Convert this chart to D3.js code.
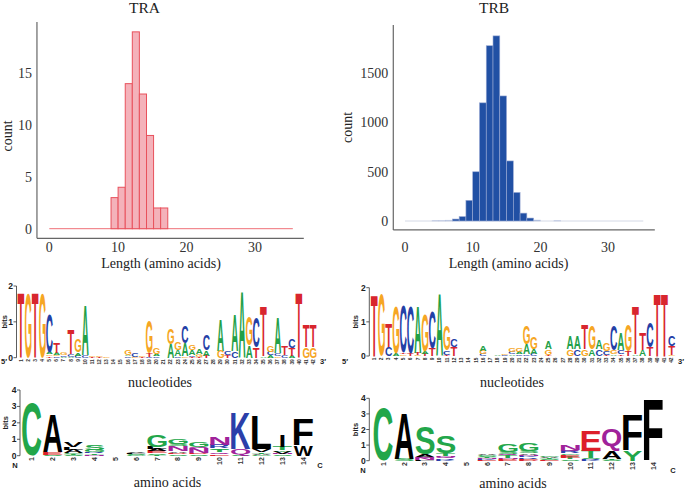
<!DOCTYPE html>
<html><head><meta charset="utf-8">
<script src="https://cdn.jsdelivr.net/npm/d3@7"></script>
<style>body{margin:0;background:#fff}svg{display:block}</style>
</head><body>
<svg id="c" width="685" height="491"></svg>
<script>
// ---------------- DATA ----------------
const xTickVals = [0, 10, 20, 30];
// TRA histogram
const traEdges  = [9, 10.03, 11.07, 12.1, 13.13, 14.17, 15.2, 16.23, 17.27];
const traCounts = [3, 4, 14, 19, 13, 9, 2, 2];
const traSpan   = [0, 35.5];
const traYTicks = [0, 5, 10, 15];
// TRB histogram
const trbEdges  = [4, 5, 6, 7, 8, 9, 10, 11, 12, 13, 14, 15, 16, 17, 18, 19, 20, 21, 22, 23];
const trbCounts = [3, 3, 8, 20, 45, 210, 500, 1200, 1780, 1880, 1270, 610, 290, 80, 30, 10, 0, 0, 3];
const trbSpan   = [0, 35.2];
const trbYTicks = [0, 500, 1000, 1500];

// Sequence logos: each column lists letters bottom -> top with bits
const traNt = ["T1.8","G1.8","T1.8","G1.8","T0.04 G0.05 A0.06 C1.05","C0.04 G0.04 A0.05 T0.27",
  "A0.03 C0.04 G0.06","A0.03 C0.08 T0.7","C0.06 A0.08 G0.36","C0.07 A1.38","T0.02 G0.04","T0.02 G0.03",
  "G0.02","","","C0.04 A0.04 G0.15","G0.03 C0.1","T0.03 G0.03","C0.03 T0.1 G0.92","C0.04 A0.05 G0.17","",
  "A0.38 G0.42","C0.04 A0.16 G0.2","G0.04 A0.36 C0.47","T0.03 C0.04 A0.14 G0.16","T0.03 G0.06 A0.14",
  "T0.06 A0.14 C0.44","","G0.2 A0.85","T0.07 C0.12","C0.18 A1.02","A1.83","A0.33 G0.82","T0.3 C0.85",
  "A0.04 T1.39","A0.06 C0.1 G0.17","G0.05 C0.08 A0.98","C0.08 T0.26","A0.05 T0.22 C0.25","T1.8",
  "G0.3 T0.62","G0.3 T0.62"];
const trbNt = ["T1.8","G1.8","C0.27 T0.69","A0.08 G1.38","G0.05 T0.04 C1.37","T0.08 C1.38",
  "G0.04 T0.06 A1.36","T0.06 A0.08 G1.08","T0.22 C1.08","A1.83","T0.04 C0.12 G0.74","T0.26 C0.24",
  "","","","C0.06 G0.1 A0.14","","A0.02","C0.02 G0.04","A0.05 C0.06 G0.1","C0.05 A0.06 G0.1",
  "C0.05 A0.3 G0.55","C0.06 A0.14 G0.36","","T0.04 G0.16 A0.22","","","G0.2 A0.36","C0.2 A0.36",
  "G0.2 T0.7","A0.2 G0.7","C0.2 A0.25","T0.03 C0.1 G0.24","A0.05 G0.12 C0.73","T0.05 C0.12 A0.5",
  "T0.14 G0.76","A0.05 T1.41","A0.18 T0.48","T0.25 C0.72","T1.83","T1.83","G0.03 T0.25 C0.3"];
const traAa = ["C3.17","S0.05 E0.16 A2.25","S0.05 T0.05 G0.05 A0.2 L0.15 V0.3","N0.06 T0.1 R0.08 G0.12 S0.3",
  "","G0.05 S0.05 L0.05 V0.05","T0.06 S0.08 E0.12 A0.14 L0.15 G0.7","S0.08 D0.08 A0.1 N0.3 S0.15 G0.35",
  "S0.08 D0.07 N0.3 Q0.1 G0.3","E0.1 Q0.1 T0.15 S0.1 R0.2 N0.5","S0.05 Q0.35 K2.2",
  "G0.05 A0.08 T0.1 V0.15 L2.0","S0.08 N0.05 V0.12 Y0.1 T0.2 I0.7","W0.65 F1.6"];
const trbAa = ["C3.35","S0.12 A2.9","L0.06 N0.12 Q0.08 A0.12 S1.8","K0.06 R0.08 Q0.08 N0.06 T0.18 S1.08",
  "","E0.05 K0.05 N0.05 T0.06 S0.06 G0.1 A0.05","E0.05 D0.06 N0.08 T0.15 Q0.1 S0.12 G0.5",
  "D0.05 E0.06 R0.1 K0.06 N0.1 A0.1 S0.15 G0.5","E0.04 S0.06 T0.08 A0.06 G0.1",
  "S0.08 T0.12 E0.18 G0.1 R0.12 Q0.1 N0.3","K0.06 R0.08 S0.06 T0.45 E1.3","S0.06 T0.08 A0.5 Q1.42",
  "Y0.65 F2.28","F3.95"];
const ntTicks = [0, 1, 2];
const aaTicks = [0, 1, 2, 3, 4];

const ntColors = {A:"#22a047", C:"#2340a6", G:"#f6a623", T:"#d8262e"};
const aaGroup = {G:"#22a64a",S:"#22a64a",T:"#22a64a",Y:"#22a64a",C:"#22a64a",
  N:"#a0229a",Q:"#a0229a",K:"#2b3faa",R:"#2b3faa",H:"#2b3faa",D:"#dd1f2a",E:"#dd1f2a",
  A:"#000",V:"#000",L:"#000",I:"#000",P:"#000",W:"#000",F:"#000",M:"#000"};

// ---------------- DRAWING ----------------
const svg = d3.select("#c");
const SERIF = "'Liberation Serif','Times New Roman',serif";
const SANS = "'Liberation Sans',Arial,sans-serif";
const axisCol = "#666";

function hist(o) {
  const x = d3.scaleLinear().domain([0, 30]).range(o.xr);
  const y = d3.scaleLinear().domain(o.yd).range(o.yr);
  const g = svg.append("g");
  g.append("line").attr("x1", x(o.span[0])).attr("x2", x(o.span[1]))
    .attr("y1", y(0)).attr("y2", y(0)).attr("stroke", o.zero).attr("stroke-width", 1);
  g.selectAll("rect.bar").data(o.counts).join("rect").attr("class", "bar")
    .attr("x", (d, i) => x(o.edges[i])).attr("width", (d, i) => x(o.edges[i + 1]) - x(o.edges[i]))
    .attr("y", d => y(d)).attr("height", d => y(0) - y(d))
    .attr("fill", o.fill).attr("stroke", o.stroke).attr("stroke-width", o.sw)
    .attr("opacity", d => d < 15 && o.fade ? 0.45 : 1);
  g.append("line").attr("x1", x(o.axX[0])).attr("x2", x(o.axX[0]))
    .attr("y1", y(o.axY[0])).attr("y2", y(o.axY[1])).attr("stroke", axisCol).attr("stroke-width", 1.2);
  g.append("line").attr("x1", x(o.axX[0])).attr("x2", x(o.axX[1]))
    .attr("y1", y(o.axY[0])).attr("y2", y(o.axY[0])).attr("stroke", axisCol).attr("stroke-width", 1.2);
  g.selectAll("text.yt").data(o.yTicks).join("text").attr("class", "yt")
    .attr("x", x(o.axX[0]) - 5).attr("y", d => y(d)).attr("dy", "0.35em")
    .attr("text-anchor", "end").attr("font-family", SERIF).attr("font-size", 14).attr("fill", "#333")
    .text(d => d);
  g.selectAll("text.xt").data(xTickVals).join("text").attr("class", "xt")
    .attr("x", d => x(d)).attr("y", o.xLabY).attr("text-anchor", "middle")
    .attr("font-family", SERIF).attr("font-size", 14).attr("fill", "#333").text(d => d);
  g.append("text").attr("x", o.titleX).attr("y", 13).attr("text-anchor", "middle")
    .attr("font-family", SERIF).attr("font-size", 15.5).attr("fill", "#222").text(o.title);
  g.append("text").attr("x", o.xTitleX).attr("y", 268).attr("text-anchor", "middle")
    .attr("font-family", SERIF).attr("font-size", 14).attr("fill", "#222").text("Length (amino acids)");
  g.append("text").attr("transform", `translate(${o.countX},${o.countY}) rotate(-90)`)
    .attr("text-anchor", "middle").attr("font-family", SERIF).attr("font-size", 14)
    .attr("fill", "#222").text("count");
}

hist({title: "TRA", titleX: 144.5, xTitleX: 161, countX: 11.5, countY: 136,
  xr: [49.3, 255.1], yd: [0, 15], yr: [228.7, 73.3], edges: traEdges, counts: traCounts,
  span: traSpan, yTicks: traYTicks, axX: [-1.8, 37.1], axY: [-0.93, 19.95], xLabY: 251.5,
  fill: "#f4b2ba", stroke: "#e8515c", sw: 1, zero: "#ef6f77", fade: false});
hist({title: "TRB", titleX: 494, xTitleX: 508.5, countX: 351.5, countY: 127.5,
  xr: [405, 608.1], yd: [0, 1500], yr: [221, 73.3], edges: trbEdges, counts: trbCounts,
  span: trbSpan, yTicks: trbYTicks, axX: [-1.73, 36.9], axY: [-91, 1990], xLabY: 252,
  fill: "#2150a4", stroke: "#9aaad4", sw: 0.6, zero: "#d4d9e6", fade: true});

// --- logos ---
const ctx = document.createElement("canvas").getContext("2d");
ctx.font = "bold 100px 'Liberation Sans'";
const metricCache = {};
function metric(ch) {
  if (!metricCache[ch]) {
    const t = ctx.measureText(ch);
    metricCache[ch] = {L: t.actualBoundingBoxLeft, R: t.actualBoundingBoxRight,
      A: t.actualBoundingBoxAscent, D: t.actualBoundingBoxDescent};
  }
  return metricCache[ch];
}
function parseCol(s) {
  return s.split(" ").filter(Boolean).map(t => [t[0], +t.slice(1)]);
}

function logo(o) {
  const n = o.cols.length;
  const x = d3.scaleLinear().domain([1, n]).range([o.x1, o.xN]);
  const step = (o.xN - o.x1) / (n - 1);
  const maxB = o.ticks[o.ticks.length - 1];
  const y = d3.scaleLinear().domain([0, maxB]).range([o.y0, o.yTop]);
  const g = svg.append("g");
  o.cols.forEach((s, i) => {
    let acc = 0;
    parseCol(s).forEach(([ch, h]) => {
      const yb = y(acc), yt = y(acc + h);
      acc += h;
      if (yb - yt < 0.25) return;
      const w = step * o.fillW * (ch === "I" ? 0.22 : 1);
      const m = metric(ch);
      const sx = w / (m.L + m.R), sy = (yb - yt) / (m.A + m.D);
      const left = x(i + 1) - w / 2;
      g.append("text").text(ch).attr("font-family", SANS).attr("font-weight", "bold")
        .attr("font-size", 100).attr("fill", o.color(ch))
        .attr("transform", `translate(${left + m.L * sx},${yt + m.A * sy}) scale(${sx},${sy})`);
    });
  });
  g.append("line").attr("x1", o.axisX).attr("x2", o.axisX).attr("y1", y(0)).attr("y2", y(maxB))
    .attr("stroke", "#333").attr("stroke-width", 0.8);
  g.selectAll("line.tk").data(o.ticks).join("line").attr("class", "tk")
    .attr("x1", o.axisX - 3).attr("x2", o.axisX).attr("y1", d => y(d)).attr("y2", d => y(d))
    .attr("stroke", "#333").attr("stroke-width", 0.8);
  g.selectAll("text.tl").data(o.ticks).join("text").attr("class", "tl")
    .attr("x", o.axisX - 3.5).attr("y", d => y(d)).attr("dy", "0.36em").attr("text-anchor", "end")
    .attr("font-family", SANS).attr("font-weight", "bold").attr("font-size", o.tickFont)
    .attr("fill", "#222").text(d => d);
  g.append("text").attr("transform", `translate(${o.bitsX},${y(maxB / 2)}) rotate(-90)`)
    .attr("text-anchor", "middle").attr("font-family", SANS).attr("font-weight", "bold")
    .attr("font-size", 7.5).attr("fill", "#222").text("bits");
  g.selectAll("text.pl").data(d3.range(1, n + 1)).join("text").attr("class", "pl")
    .attr("transform", d => `translate(${x(d) + o.posFont * 0.35},${o.y0 + 1.5}) rotate(-90)`)
    .attr("text-anchor", "end").attr("font-family", SANS).attr("font-weight", "bold")
    .attr("font-size", o.posFont).attr("fill", "#333").text(d => d);
  g.append("text").attr("x", o.endL[0]).attr("y", o.endL[1]).attr("text-anchor", "middle")
    .attr("font-family", SANS).attr("font-weight", "bold").attr("font-size", 7.5).attr("fill", "#222")
    .text(o.endText[0]);
  g.append("text").attr("x", o.endR[0]).attr("y", o.endR[1]).attr("text-anchor", "middle")
    .attr("font-family", SANS).attr("font-weight", "bold").attr("font-size", 7.5).attr("fill", "#222")
    .text(o.endText[1]);
  g.append("text").attr("x", o.sub[0]).attr("y", o.sub[1]).attr("text-anchor", "middle")
    .attr("font-family", SERIF).attr("font-size", 14).attr("fill", "#222").text(o.subText);
}

const ntColor = ch => ntColors[ch];
const aaColor = ch => aaGroup[ch] || "#000";

logo({cols: traNt, x1: 21, xN: 313.3, y0: 357.7, yTop: 286, ticks: ntTicks, color: ntColor,
  fillW: 0.93, axisX: 16.5, tickFont: 8.5, bitsX: 6.5, posFont: 4.8, endText: ["5\u2032", "3\u2032"],
  endL: [4, 364], endR: [323, 364], sub: [160, 387], subText: "nucleotides"});
logo({cols: trbNt, x1: 374.3, xN: 671.7, y0: 356, yTop: 287.7, ticks: ntTicks, color: ntColor,
  fillW: 0.93, axisX: 369.3, tickFont: 8.5, bitsX: 357.5, posFont: 4.8, endText: ["5\u2032", "3\u2032"],
  endL: [345, 364], endR: [681, 364], sub: [512, 387], subText: "nucleotides"});
logo({cols: traAa, x1: 31.7, xN: 303.3, y0: 455.7, yTop: 390, ticks: aaTicks, color: aaColor,
  fillW: 0.92, axisX: 20, tickFont: 8.5, bitsX: 8, posFont: 7, endText: ["N", "C"],
  endL: [15, 468], endR: [320, 468], sub: [167.5, 486.5], subText: "amino acids"});
logo({cols: trbAa, x1: 383.3, xN: 653.3, y0: 460.7, yTop: 398.3, ticks: aaTicks, color: aaColor,
  fillW: 0.92, axisX: 369.3, tickFont: 8.5, bitsX: 357.5, posFont: 7, endText: ["N", "C"],
  endL: [363, 473], endR: [673, 473], sub: [513, 488], subText: "amino acids"});
</script>
</body></html>
